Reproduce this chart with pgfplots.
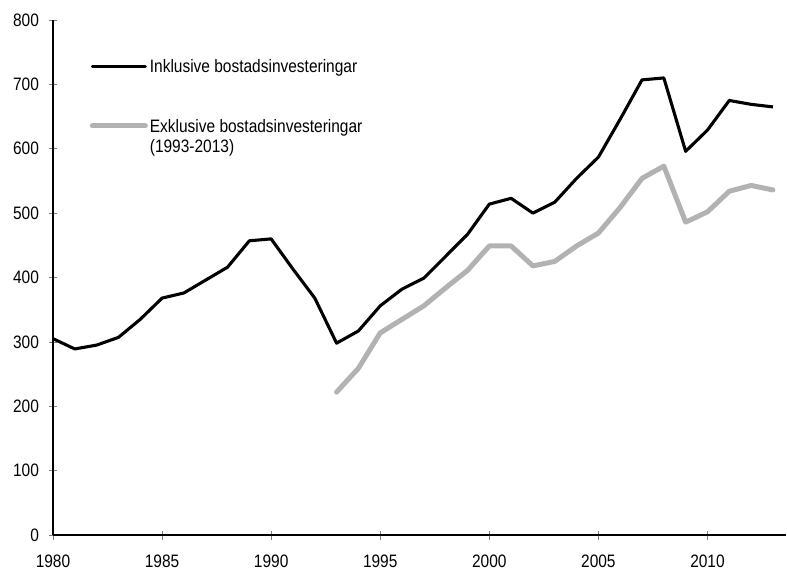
\documentclass[border=0pt]{standalone}
\usepackage{fontspec}
\setmainfont{Liberation Sans}[FakeStretch=0.86]
\usepackage{pgfplots}
\pgfplotsset{compat=1.18}
\definecolor{lgray}{RGB}{178,178,178}
\begin{document}
\begin{tikzpicture}
\begin{axis}[
  scale only axis,
  width=733pt, height=515pt,
  xmin=1980, xmax=2013.6,
  ymin=0, ymax=800,
  axis lines=left,
  axis line style={-, line width=1.1pt, black},
  xtick={1980,1985,...,2010},
  ytick={0,100,...,800},
  tick align=center,
  major tick length=9pt,
  tick style={gray, line width=0.6pt},
  /pgf/number format/assume math mode=true,
  /pgf/number format/1000 sep=,
  ticklabel style={font=\fontsize{18}{20}\selectfont},
  xticklabel style={yshift=-12pt},
  yticklabel style={xshift=-6pt},
  clip=false,
  legend style={at={(axis description cs:0.05,0.928)}, anchor=north west,
    draw=none, fill=none, inner sep=0pt, row sep=40pt,
    font=\fontsize{18}{20.5}\selectfont},
  legend cell align=left,
  legend image code/.code={\draw[#1, line cap=round] (0pt,0pt) -- (53pt,0pt);},
]
\addplot[black, line width=3.1pt, line join=round] coordinates {
(1980,305) (1981,289) (1982,295) (1983,307) (1984,335) (1985,368) (1986,376)
(1987,396) (1988,416) (1989,457) (1990,460) (1991,413) (1992,368) (1993,298)
(1994,317) (1995,356) (1996,382) (1997,399) (1998,433) (1999,467) (2000,514)
(2001,523) (2002,500) (2003,517) (2004,554) (2005,587) (2006,646) (2007,707)
(2008,710) (2009,596) (2010,629) (2011,675) (2012,669) (2013,665)};
\addlegendentry{Inklusive bostadsinvesteringar}
\addplot[lgray, line width=5pt, line join=round, line cap=round] coordinates {
(1993,222) (1994,259) (1995,314) (1996,335) (1997,356) (1998,384) (1999,411)
(2000,449) (2001,449) (2002,418) (2003,425) (2004,449) (2005,469) (2006,509)
(2007,554) (2008,573) (2009,486) (2010,502) (2011,534) (2012,543) (2013,536)};
\addlegendentry{\begin{tabular}[t]{@{}l@{}}Exklusive bostadsinvesteringar\\(1993-2013)\end{tabular}}
\end{axis}
\path (-53pt,-32pt) rectangle (734pt,535pt);
\end{tikzpicture}
\end{document}
